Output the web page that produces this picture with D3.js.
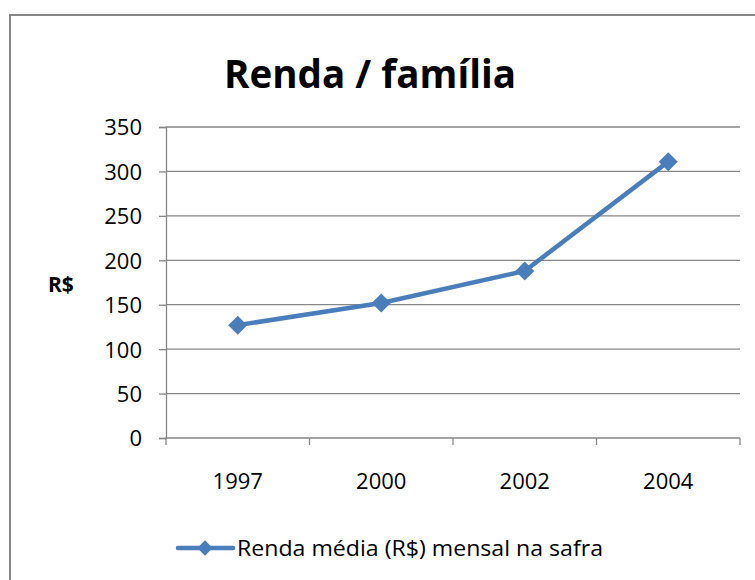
<!DOCTYPE html>
<html>
<head>
<meta charset="utf-8">
<script src="https://cdn.jsdelivr.net/npm/d3@7"></script>
<style>
  body { margin: 0; background: #fff; }
  svg text { font-family: "Open Sans", sans-serif; fill: #000; }
</style>
</head>
<body>
<div id="chart"></div>
<script>

// data
var anos    = ["1997", "2000", "2002", "2004"];
var renda   = [127, 152, 188, 311];
var yTicks  = [0, 50, 100, 150, 200, 250, 300, 350];
var titulo  = "Renda / família";
var serie   = "Renda média (R$) mensal na safra";
var yTitulo = "R$";

var width  = 755;
var height = 580;
var azul   = "#4A7EBB";
var cinza  = "#878787";

var svg = d3.select("#chart")
	.append("svg")
	.attr("width", width)
	.attr("height", height);

// outer frame (runs off the right and bottom edge)
svg.append("rect")
	.attr("x", 10)
	.attr("y", 15)
	.attr("width", 800)
	.attr("height", 700)
	.attr("fill", "none")
	.attr("stroke", cinza)
	.attr("stroke-width", 2);

var plot = { left: 166, right: 740, top: 127, bottom: 438 };

var x = d3.scaleBand()
	.domain(anos)
	.range([plot.left, plot.right]);

var y = d3.scaleLinear()
	.domain([0, 350])
	.range([plot.bottom, plot.top]);

// gridlines
svg.append("g")
	.selectAll("line")
	.data(yTicks.filter(function(d){ return d > 0; }))
	.enter().append("line")
	.attr("x1", plot.left)
	.attr("x2", plot.right)
	.attr("y1", function(d){ return y(d); })
	.attr("y2", function(d){ return y(d); })
	.attr("stroke", cinza)
	.attr("stroke-width", 1.3);

// y axis
var yAxis = svg.append("g")
	.attr("transform", "translate(" + plot.left + ",0)")
	.call(d3.axisLeft(y).tickValues(yTicks).tickSize(7).tickPadding(17));
yAxis.select(".domain").attr("stroke", cinza).attr("stroke-width", 1.3);
yAxis.selectAll(".tick line").attr("stroke", cinza).attr("stroke-width", 1.3);
yAxis.selectAll("text")
	.style("font-family", "'Open Sans', sans-serif")
	.style("font-size", "22px")
	.attr("fill", "#111")
	.attr("dy", "0.36em");

// x axis, ticks sit on the band edges
var xAxis = svg.append("g")
	.attr("transform", "translate(0," + plot.bottom + ")");
xAxis.append("line")
	.attr("x1", plot.left - 1)
	.attr("x2", plot.right)
	.attr("stroke", cinza)
	.attr("stroke-width", 1.3);
xAxis.selectAll("line.tk")
	.data(anos.concat(["fim"]))
	.enter().append("line")
	.attr("class", "tk")
	.attr("x1", function(d, i){ return plot.left + i * x.step(); })
	.attr("x2", function(d, i){ return plot.left + i * x.step(); })
	.attr("y1", 0)
	.attr("y2", 7)
	.attr("stroke", cinza)
	.attr("stroke-width", 1.3);
xAxis.selectAll("text")
	.data(anos)
	.enter().append("text")
	.attr("x", function(d){ return x(d) + x.bandwidth() / 2; })
	.attr("y", 51)
	.attr("text-anchor", "middle")
	.style("font-size", "22px")
	.attr("fill", "#111")
	.text(function(d){ return d; });

// title
svg.append("text")
	.attr("x", 370)
	.attr("y", 88)
	.attr("text-anchor", "middle")
	.attr("textLength", 292)
	.attr("lengthAdjust", "spacingAndGlyphs")
	.style("font-size", "39px")
	.style("font-weight", "bold")
	.text(titulo);

// axis title
svg.append("text")
	.attr("x", 48)
	.attr("y", 292)
	.style("font-size", "21px")
	.style("font-weight", "bold")
	.text(yTitulo);

// series line
var linha = d3.line()
	.x(function(d, i){ return x(anos[i]) + x.bandwidth() / 2; })
	.y(function(d){ return y(d); });

svg.append("path")
	.datum(renda)
	.attr("d", linha)
	.attr("fill", "none")
	.attr("stroke", azul)
	.attr("stroke-width", 4.5)
	.attr("stroke-linejoin", "round");

var diamante = d3.symbol().type(d3.symbolDiamond2).size(230);

svg.selectAll("path.marca")
	.data(renda)
	.enter().append("path")
	.attr("class", "marca")
	.attr("d", diamante)
	.attr("transform", function(d, i){
		return "translate(" + (x(anos[i]) + x.bandwidth() / 2) + "," + y(d) + ")";
	})
	.attr("fill", azul);

// legend
var leg = svg.append("g").attr("transform", "translate(178,548)");
leg.append("line")
	.attr("x1", 0)
	.attr("x2", 55)
	.attr("stroke", azul)
	.attr("stroke-width", 4.5)
	.attr("stroke-linecap", "round");
leg.append("path")
	.attr("d", d3.symbol().type(d3.symbolDiamond2).size(150))
	.attr("transform", "translate(27,0)")
	.attr("fill", azul);
leg.append("text")
	.attr("x", 59)
	.attr("y", 8)
	.style("font-size", "21px")
	.attr("fill", "#111")
	.attr("textLength", 366)
	.attr("lengthAdjust", "spacingAndGlyphs")
	.text(serie);

</script>
</body>
</html>
